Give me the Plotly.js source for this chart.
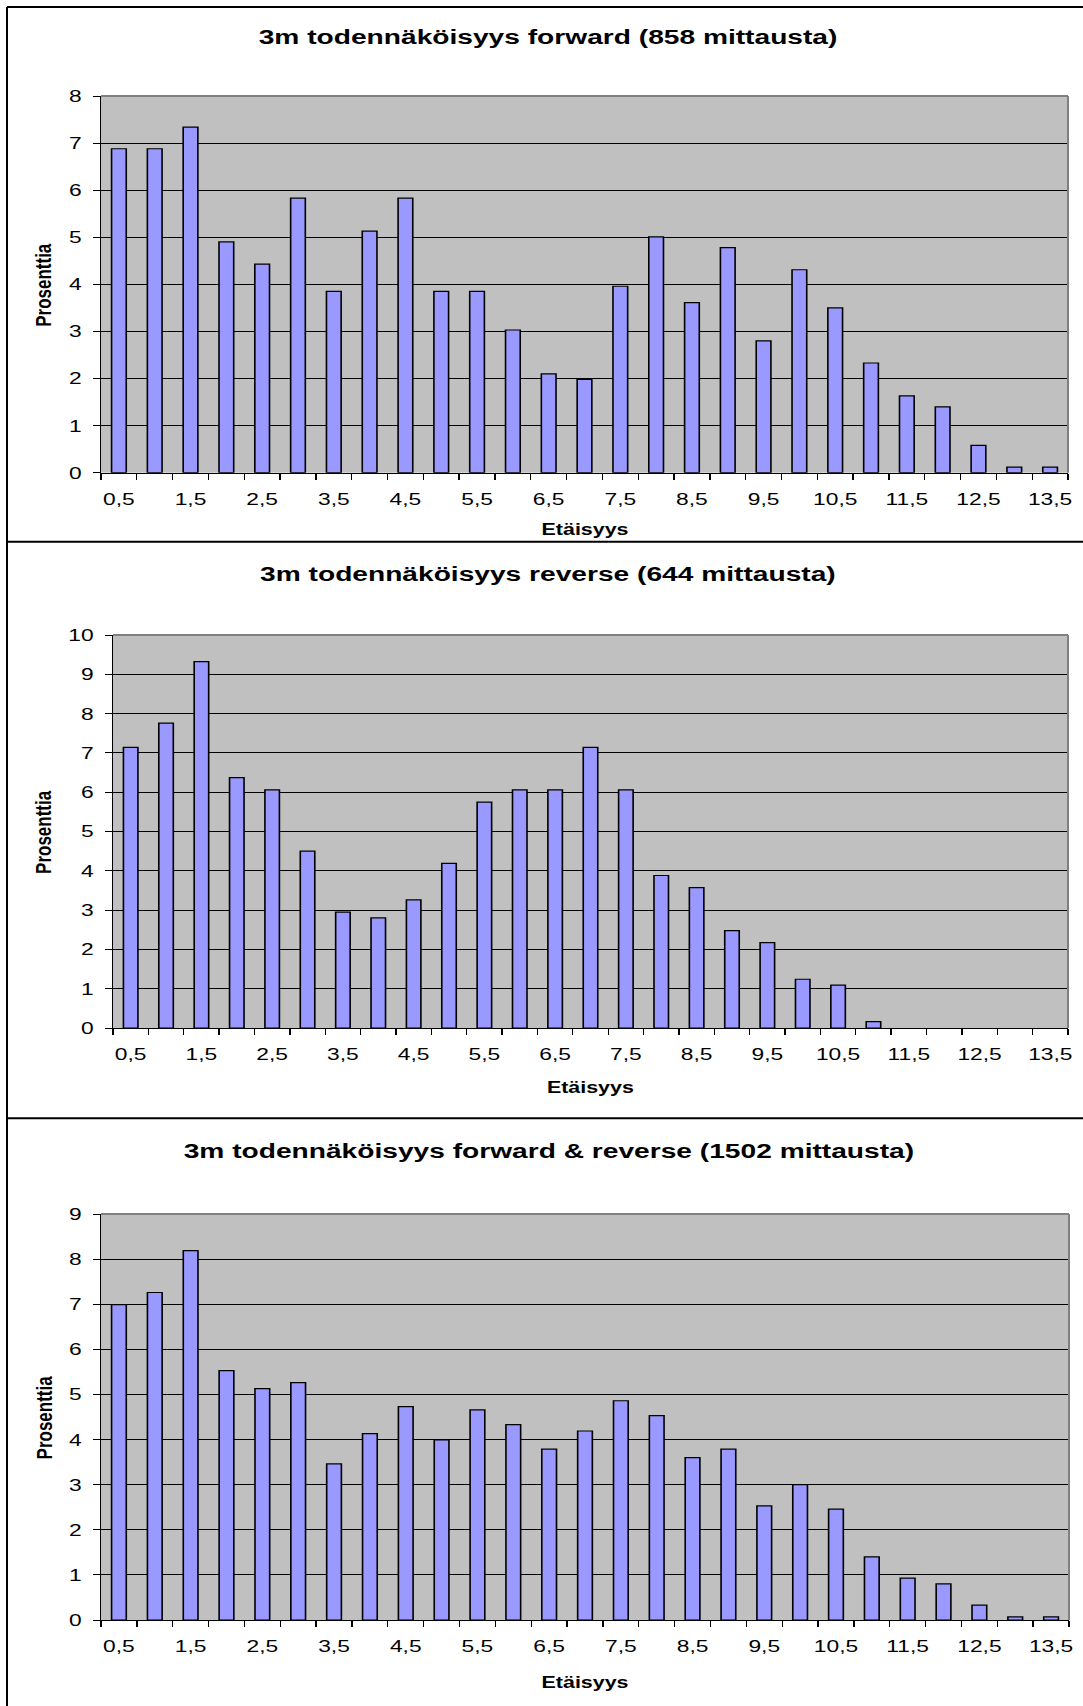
<!DOCTYPE html>
<html>
<head>
<meta charset="utf-8">
<script src="https://cdn.plot.ly/plotly-3.0.1.min.js"></script>
<style>
  html, body { margin:0; padding:0; background:#fff; overflow:hidden; width:1083px; height:1706px; }
  #chart { width:808px; height:1706px; transform:scale(1.34035,1); transform-origin:0 0; }
</style>
</head>
<body>
<div id="chart"></div>
<script>
// ---------------- data ----------------
const distances = [0.5, 1, 1.5, 2, 2.5, 3, 3.5, 4, 4.5, 5, 5.5, 6, 6.5, 7, 7.5, 8, 8.5, 9, 9.5, 10, 10.5, 11, 11.5, 12, 12.5, 13, 13.5];
const tickPositions = [0.5, 1.5, 2.5, 3.5, 4.5, 5.5, 6.5, 7.5, 8.5, 9.5, 10.5, 11.5, 12.5, 13.5];
const tickLabels = ['0,5', '1,5', '2,5', '3,5', '4,5', '5,5', '6,5', '7,5', '8,5', '9,5', '10,5', '11,5', '12,5', '13,5'];

const forwardPct  = [6.88, 6.88, 7.34, 4.90, 4.43, 5.83, 3.85, 5.13, 5.83, 3.85, 3.85, 3.03, 2.10, 1.98, 3.96, 5.01, 3.61, 4.78, 2.80, 4.31, 3.50, 2.33, 1.63, 1.40, 0.58, 0.12, 0.12];
const reversePct  = [7.14, 7.76, 9.32, 6.37, 6.06, 4.50, 2.95, 2.80, 3.26, 4.19, 5.75, 6.06, 6.06, 7.14, 6.06, 3.88, 3.57, 2.48, 2.17, 1.24, 1.09, 0.16, 0, 0, 0, 0, 0];
const combinedPct = [6.99, 7.26, 8.19, 5.53, 5.13, 5.26, 3.46, 4.13, 4.73, 3.99, 4.66, 4.33, 3.79, 4.19, 4.86, 4.53, 3.60, 3.79, 2.53, 3.00, 2.46, 1.40, 0.93, 0.80, 0.33, 0.07, 0.07];

const chartTitles = [
  '3m todennäköisyys forward (858 mittausta)',
  '3m todennäköisyys reverse (644 mittausta)',
  '3m todennäköisyys forward &amp; reverse (1502 mittausta)'
];
const xTitle = 'Etäisyys';
const yTitle = 'Prosenttia';
const yMax = [8, 10, 9];

// ---------------- layout helpers (pixel positions in the 1083x1706 picture) ----------------
const W = 1083, H = 1706;
const px = x => x / W;
const py = y => 1 - y / H;

const plots = [
  {l:101, r:1068, t:96,   b:472.7, titleY:36,    xTitleY:529},
  {l:113, r:1068, t:635,  b:1028,  titleY:573.6, xTitleY:1087},
  {l:101, r:1069, t:1214, b:1620,  titleY:1150,  xTitleY:1682}
];
const series = [forwardPct, reversePct, combinedPct];

const FONT = 'Liberation Sans, Arial, Helvetica, sans-serif';
const boundaries = distances.map(d => d - 0.25).concat([distances[distances.length-1] + 0.25]);

const data = [];
const layout = {
  width: 808, height: 1706, autosize: false,
  margin: {l:0, r:0, t:0, b:0, pad:0},
  paper_bgcolor: '#ffffff',
  plot_bgcolor: '#C0C0C0',
  showlegend: false,
  bargap: 0.59,
  font: {family: FONT, color: '#000'},
  annotations: [],
  shapes: []
};

plots.forEach((p, i) => {
  const sfx = i === 0 ? '' : String(i + 1);
  data.push({
    type: 'bar',
    x: distances,
    y: series[i],
    xaxis: 'x' + sfx,
    yaxis: 'y' + sfx,
    marker: {color: '#9999FF', line: {color: '#000000', width: series[i].map(v => v > 0 ? 1.2 : 0)}},
    hoverinfo: 'skip'
  });
  layout['xaxis' + sfx] = {
    domain: [px(p.l), px(p.r)],
    anchor: 'y' + sfx,
    range: [0.25, 13.75],
    tickmode: 'array',
    tickvals: tickPositions,
    ticktext: tickLabels,
    ticks: 'outside', ticklen: 6, tickcolor: 'rgba(0,0,0,0)',
    ticklabelstandoff: 5,
    minor: {tickmode: 'array', tickvals: boundaries, ticks: 'outside', ticklen: 6, tickwidth: 1, tickcolor: '#000', showgrid: false},
    tickfont: {family: FONT, size: 17, color: '#000'},
    showline: true, linecolor: '#000', linewidth: 1,
    showgrid: false, zeroline: false, fixedrange: true
  };
  layout['yaxis' + sfx] = {
    domain: [py(p.b), py(p.t)],
    anchor: 'x' + sfx,
    range: [0, yMax[i]],
    tickmode: 'linear', tick0: 0, dtick: 1,
    ticks: 'outside', ticklen: 5, tickwidth: 1, tickcolor: '#000',
    ticklabelstandoff: 5,
    tickfont: {family: FONT, size: 17, color: '#000'},
    showline: true, linecolor: '#000', linewidth: 1,
    showgrid: true, gridcolor: '#000', gridwidth: 1,
    zeroline: false, fixedrange: true
  };
  // grey plot-area border on top and right
  layout.shapes.push(
    {type:'line', xref:'x' + sfx + ' domain', yref:'y' + sfx + ' domain', x0:0, x1:1, y0:1, y1:1, line:{color:'#808080', width:2}, layer:'above'},
    {type:'line', xref:'x' + sfx + ' domain', yref:'y' + sfx + ' domain', x0:1, x1:1, y0:0, y1:1, line:{color:'#808080', width:1.5}, layer:'above'}
  );
  // chart title
  layout.annotations.push({
    xref:'paper', yref:'paper', x: px(548.6), y: py(p.titleY), xanchor:'center', yanchor:'middle',
    text: '<b>' + chartTitles[i] + '</b>', showarrow:false,
    font:{family: FONT, size: 21, color:'#000'}
  });
  // x-axis title
  layout.annotations.push({
    xref:'paper', yref:'paper', x: px((p.l + p.r) / 2), y: py(p.xTitleY), xanchor:'center', yanchor:'middle',
    text: '<b>' + xTitle + '</b>', showarrow:false,
    font:{family: FONT, size: 16, color:'#000'}
  });
  // y-axis title
  layout.annotations.push({
    xref:'paper', yref:'paper', x: px(43.5), y: py((p.t + p.b) / 2), xanchor:'center', yanchor:'middle',
    text: '<b>' + yTitle + '</b>', showarrow:false, textangle: -90,
    font:{family: FONT, size: 17, color:'#000'}
  });
});

// chart-area frame lines (black)
const frameY = [7, 541.7, 1118.3];
frameY.forEach(y => layout.shapes.push({type:'line', xref:'paper', yref:'paper', x0:px(7), x1:1, y0:py(y), y1:py(y), line:{color:'#000', width:2}}));
layout.shapes.push({type:'line', xref:'paper', yref:'paper', x0:px(7), x1:px(7), y0:0, y1:py(7), line:{color:'#000', width:1.5}});

Plotly.newPlot('chart', data, layout, {staticPlot: true, displayModeBar: false});
</script>
</body>
</html>
